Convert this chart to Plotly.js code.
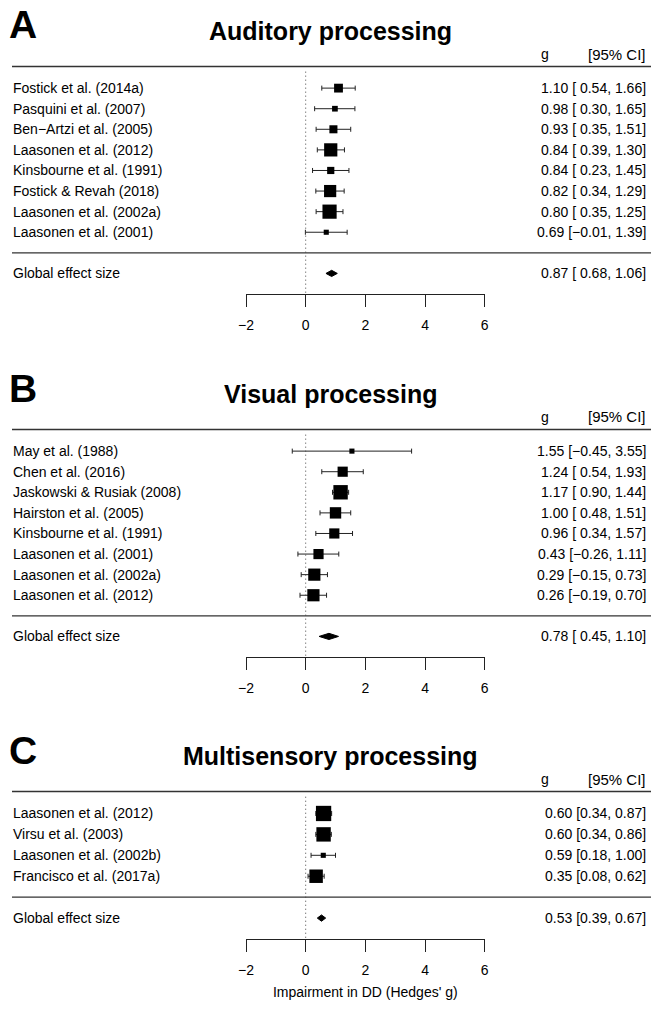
<!DOCTYPE html>
<html><head><meta charset="utf-8">
<script src="https://cdn.plot.ly/plotly-3.0.1.min.js"></script>
<style>html,body{margin:0;padding:0;background:#fff;}#chart{width:651px;height:1012px;}</style>
</head><body><div id="chart"></div>
<script>
// ---------------- data ----------------
const panelLetters = ["A", "B", "C"];
const panelTitles = ["Auditory processing", "Visual processing", "Multisensory processing"];

const studiesA = ["Fostick et al. (2014a)", "Pasquini et al. (2007)", "Ben\u2212Artzi et al. (2005)", "Laasonen et al. (2012)", "Kinsbourne et al. (1991)", "Fostick & Revah (2018)", "Laasonen et al. (2002a)", "Laasonen et al. (2001)"];
const gA  = [1.10, 0.98, 0.93, 0.84, 0.84, 0.82, 0.80, 0.69];
const loA = [0.54, 0.30, 0.35, 0.39, 0.23, 0.34, 0.35, -0.01];
const hiA = [1.66, 1.65, 1.51, 1.30, 1.45, 1.29, 1.25, 1.39];
const weightA = [6.0, 2.5, 5.0, 13.5, 4.0, 11.5, 15.5, 2.0];
const globalA = [0.87, 0.68, 1.06];

const studiesB = ["May et al. (1988)", "Chen et al. (2016)", "Jaskowski & Rusiak (2008)", "Hairston et al. (2005)", "Kinsbourne et al. (1991)", "Laasonen et al. (2001)", "Laasonen et al. (2002a)", "Laasonen et al. (2012)"];
const gB  = [1.55, 1.24, 1.17, 1.00, 0.96, 0.43, 0.29, 0.26];
const loB = [-0.45, 0.54, 0.90, 0.48, 0.34, -0.26, -0.15, -0.19];
const hiB = [3.55, 1.93, 1.44, 1.51, 1.57, 1.11, 0.73, 0.70];
const weightB = [2.0, 8.0, 16.0, 10.0, 8.0, 8.0, 11.5, 11.5];
const globalB = [0.78, 0.45, 1.10];

const studiesC = ["Laasonen et al. (2012)", "Virsu et al. (2003)", "Laasonen et al. (2002b)", "Francisco et al. (2017a)"];
const gC  = [0.60, 0.60, 0.59, 0.35];
const loC = [0.34, 0.34, 0.18, 0.08];
const hiC = [0.87, 0.86, 1.00, 0.62];
const weightC = [18.0, 16.0, 2.0, 14.0];
const globalC = [0.53, 0.39, 0.67];

const tickVals = [-2, 0, 2, 4, 6];
const xTitle = "Impairment in DD (Hedges' g)";
const globalLabel = "Global effect size";
const headerG = "g";
const headerCI = "[95% CI]";

// ---------------- layout helpers ----------------
const W = 651, H = 1012;
const FONT = "Liberation Sans, Arial, Helvetica, sans-serif";
const px2x = p => p / W;
const px2y = p => 1 - p / H;

function fmtNum(v) {
  const s = Math.abs(v).toFixed(2);
  return (v < 0 ? "\u2212" : "") + s;
}
function fmtRow(g, lo, hi, pad) {
  let l = fmtNum(lo);
  if (pad && lo >= 0) l = " " + l;
  return fmtNum(g) + " [" + l + ", " + fmtNum(hi) + "]";
}

const panels = [
  {studies: studiesA, g: gA, lo: loA, hi: hiA, w: weightA, glob: globalA, top: 66.5, bottom: 294},
  {studies: studiesB, g: gB, lo: loB, hi: hiB, w: weightB, glob: globalB, top: 429.5, bottom: 657},
  {studies: studiesC, g: gC, lo: loC, hi: hiC, w: weightC, glob: globalC, top: 791.5, bottom: 939}
];

const traces = [];
const annotations = [];
const shapes = [];
const layout = {
  width: W, height: H,
  margin: {l: 0, r: 0, t: 0, b: 0},
  paper_bgcolor: "#fff", plot_bgcolor: "rgba(0,0,0,0)",
  showlegend: false,
  font: {family: FONT, size: 14, color: "#000"},
  hovermode: false
};

panels.forEach((p, k) => {
  const s = k === 0 ? "" : String(k + 1);
  const xa = "x" + s, ya = "y" + s;
  const n = p.studies.length;
  const rows = p.studies.map((_, i) => i + 1);
  const globRow = n + 2;
  const pad = p.lo.some(v => v < 0) || p.glob[1] < 0;

  layout["xaxis" + s] = {
    domain: [px2x(246), px2x(484.7)],
    range: [-2, 6], anchor: ya,
    showgrid: false, zeroline: false,
    showline: true, linecolor: "#222", linewidth: 1,
    ticks: "outside", ticklen: 12, tickwidth: 1, tickcolor: "#222",
    tickvals: tickVals, ticklabelstandoff: 6,
    tickfont: {family: FONT, size: 14, color: "#000"},
    fixedrange: true
  };
  if (k === 2) {
    layout["xaxis" + s].title = {text: xTitle, font: {family: FONT, size: 14, color: "#000"}, standoff: 10};
  }
  layout["yaxis" + s] = {
    domain: [px2y(p.bottom), px2y(p.top)],
    range: [n + 3, -0.05], anchor: xa,
    visible: false, fixedrange: true
  };

  // study effects with CIs
  traces.push({
    type: "scatter", mode: "markers",
    x: p.g, y: rows, xaxis: xa, yaxis: ya,
    marker: {symbol: "square", color: "#000", opacity: 1, size: p.w.map(v => 3.6 * Math.sqrt(v)), line: {width: 0}},
    error_x: {type: "data", symmetric: false,
      array: p.hi.map((h, i) => h - p.g[i]),
      arrayminus: p.lo.map((l, i) => p.g[i] - l),
      color: "#222", thickness: 1, width: 2.5},
    cliponaxis: false, hoverinfo: "skip"
  });
  // global effect diamond
  const hh = 0.15;
  traces.push({
    type: "scatter", mode: "lines",
    x: [p.glob[1], p.glob[0], p.glob[2], p.glob[0], p.glob[1]],
    y: [globRow, globRow - hh, globRow, globRow + hh, globRow],
    xaxis: xa, yaxis: ya, fill: "toself", fillcolor: "#000",
    line: {color: "#000", width: 1}, hoverinfo: "skip"
  });

  // text
  p.studies.forEach((name, i) => {
    annotations.push({xref: "paper", yref: ya, x: px2x(11), y: rows[i], text: name,
      xanchor: "left", yanchor: "middle", showarrow: false, font: {size: 14}});
    annotations.push({xref: "paper", yref: ya, x: px2x(648), y: rows[i],
      text: fmtRow(p.g[i], p.lo[i], p.hi[i], pad).replace(/ /g, "&#160;"),
      xanchor: "right", yanchor: "middle", showarrow: false, font: {size: 14}});
  });
  annotations.push({xref: "paper", yref: ya, x: px2x(11), y: globRow, text: globalLabel,
    xanchor: "left", yanchor: "middle", showarrow: false, font: {size: 14}});
  annotations.push({xref: "paper", yref: ya, x: px2x(648), y: globRow,
    text: fmtRow(p.glob[0], p.glob[1], p.glob[2], pad).replace(/ /g, "&#160;"),
    xanchor: "right", yanchor: "middle", showarrow: false, font: {size: 14}});

  // panel letter, title, headers
  const off = p.top - 66.5;
  annotations.push({xref: "paper", yref: "paper", x: px2x(7), y: px2y(25 + off), text: "<b>" + panelLetters[k] + "</b>",
    xanchor: "left", yanchor: "middle", showarrow: false, font: {size: 39}});
  annotations.push({xref: "paper", yref: "paper", x: px2x(331), y: px2y(31 + off), text: "<b>" + panelTitles[k] + "</b>",
    xanchor: "center", yanchor: "middle", showarrow: false, font: {size: 25}});
  annotations.push({xref: "paper", yref: "paper", x: px2x(545), y: px2y(54 + off), text: headerG,
    xanchor: "center", yanchor: "middle", showarrow: false, font: {size: 14}});
  annotations.push({xref: "paper", yref: "paper", x: px2x(648), y: px2y(54 + off), text: headerCI,
    xanchor: "right", yanchor: "middle", showarrow: false, font: {size: 15}});

  // lines
  shapes.push({type: "line", xref: "paper", yref: ya + " domain", x0: px2x(12), x1: 1, y0: 1, y1: 1,
    line: {color: "#333", width: 1.3}});
  shapes.push({type: "line", xref: "paper", yref: ya, x0: px2x(12), x1: 1, y0: n + 1, y1: n + 1,
    line: {color: "#333", width: 1.3}});
  shapes.push({type: "line", xref: xa, yref: ya, x0: 0, x1: 0, y0: 0.2, y1: n + 3,
    line: {color: "#444", width: 1, dash: "1px,3px"}});
});

layout.annotations = annotations;
layout.shapes = shapes;

Plotly.newPlot("chart", traces, layout, {displayModeBar: false, staticPlot: true});
</script>
</body></html>
